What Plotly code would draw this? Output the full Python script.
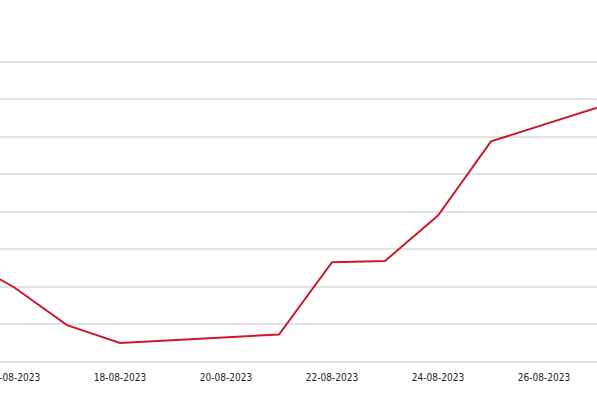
import plotly.graph_objects as go

dates = ["2023-08-15", "2023-08-16", "2023-08-17", "2023-08-18", "2023-08-21",
         "2023-08-22", "2023-08-23", "2023-08-24", "2023-08-25", "2023-08-27"]
values = [2.79, 1.99, 0.98, 0.505, 0.73, 2.66, 2.69, 3.90, 5.88, 6.78]

tick_dates = ["2023-08-16", "2023-08-18", "2023-08-20", "2023-08-22", "2023-08-24", "2023-08-26"]
tick_labels = ["16-08-2023", "18-08-2023", "20-08-2023", "22-08-2023", "24-08-2023", "26-08-2023"]

fig = go.Figure()
fig.add_trace(go.Scatter(
    x=dates, y=values, mode="lines",
    line=dict(color="#cc1a2c", width=2),
    hoverinfo="skip", showlegend=False,
))

fig.update_layout(
    width=597, height=398,
    margin=dict(l=0, r=0, t=45, b=35, autoexpand=False),
    paper_bgcolor="white", plot_bgcolor="white",
    xaxis=dict(
        range=["2023-08-15 17:40", "2023-08-27 00:00"],
        tickmode="array", tickvals=tick_dates, ticktext=tick_labels,
        showgrid=False, zeroline=False, showline=False,
        ticks="outside", ticklen=5, tickcolor="rgba(0,0,0,0)",
        ticklabeloverflow="allow", automargin=False,
        tickfont=dict(family="DejaVu Sans Condensed, Liberation Sans, sans-serif", size=10, color="#222"),
    ),
    yaxis=dict(
        range=[-0.03, 8.45], dtick=1, tick0=0,
        showgrid=True, gridcolor="#e2e2e2", gridwidth=1.5,
        zeroline=False, showticklabels=False, ticks="", showline=False,
        automargin=False,
    ),
)

fig.write_html("out.html")
